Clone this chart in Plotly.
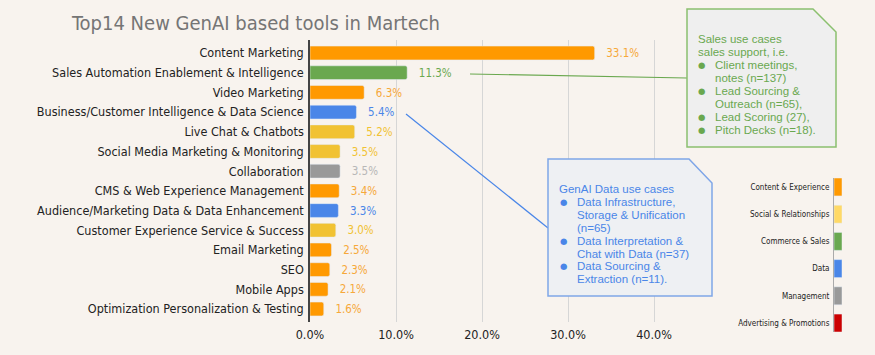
import plotly.graph_objects as go

W, H = 875, 355

categories = [
    "Content Marketing",
    "Sales Automation Enablement & Intelligence",
    "Video Marketing",
    "Business/Customer Intelligence & Data Science",
    "Live Chat & Chatbots",
    "Social Media Marketing & Monitoring",
    "Collaboration",
    "CMS & Web Experience Management",
    "Audience/Marketing Data & Data Enhancement",
    "Customer Experience Service & Success",
    "Email Marketing",
    "SEO",
    "Mobile Apps",
    "Optimization Personalization & Testing",
]
values = [33.1, 11.3, 6.3, 5.4, 5.2, 3.5, 3.5, 3.4, 3.3, 3.0, 2.5, 2.3, 2.1, 1.6]
groups = ["Content & Experience", "Commerce & Sales", "Content & Experience", "Data",
          "Social & Relationships", "Social & Relationships", "Management",
          "Content & Experience", "Data", "Social & Relationships",
          "Content & Experience", "Content & Experience", "Content & Experience",
          "Content & Experience"]

legend_groups = ["Content & Experience", "Social & Relationships", "Commerce & Sales",
                 "Data", "Management", "Advertising & Promotions"]
legend_values = [1, 1, 1, 1, 1, 1]

bar_colors = {"Content & Experience": "#FF9900", "Social & Relationships": "#F1C232",
              "Commerce & Sales": "#6AA84F", "Data": "#4A86E8",
              "Management": "#999999", "Advertising & Promotions": "#CC0000"}
legend_colors = {"Content & Experience": "#FF9900", "Social & Relationships": "#FFD966",
                 "Commerce & Sales": "#6AA84F", "Data": "#4A86E8",
                 "Management": "#999999", "Advertising & Promotions": "#CC0000"}
label_colors = {"Content & Experience": "#F6A83A", "Social & Relationships": "#F1C232",
                "Commerce & Sales": "#6AA84F", "Data": "#4A86E8",
                "Management": "#B7B7B7", "Advertising & Promotions": "#CC0000"}

sales_title = ["Sales use cases", "sales support, i.e."]
sales_bullets = [["Client meetings,", "notes (n=137)"],
                 ["Lead Sourcing &", "Outreach (n=65),"],
                 ["Lead Scoring (27),"],
                 ["Pitch Decks (n=18)."]]
data_title = ["GenAI Data use cases"]
data_bullets = [["Data Infrastructure,", "Storage & Unification", "(n=65)"],
                ["Data Interpretation &", "Chat with Data (n=37)"],
                ["Data Sourcing &", "Extraction (n=11)."]]

FONT = "DejaVu Sans Condensed, DejaVu Sans, Verdana, sans-serif"
ARIAL = "Liberation Sans, Arial, sans-serif"
BG = "#F8F3EE"


def px(x):
    return x / W


def py(y):
    return 1 - y / H


fig = go.Figure()

x0_px, xscale = 310, 8.6  # px of 0, px per 1%
xmax = 42
fig.add_trace(go.Bar(
    y=categories, x=values, orientation="h",
    marker=dict(color=[bar_colors[g] for g in groups], cornerradius=2),
    width=0.7,
    text=["  \u2009{:.1f}%".format(v) for v in values],
    textposition="outside",
    textfont=dict(family=FONT, size=12.5, color=[label_colors[g] for g in groups]),
    cliponaxis=False,
    hoverinfo="skip",
    showlegend=False,
    xaxis="x", yaxis="y",
))

fig.add_trace(go.Bar(
    y=legend_groups, x=legend_values, orientation="h",
    marker=dict(color=[legend_colors[g] for g in legend_groups]),
    width=0.66,
    hoverinfo="skip", showlegend=False,
    xaxis="x2", yaxis="y2",
))

shapes = []
annotations = []


def box(l, t, r, b, cut_x, cut_y, fill, line):
    path = "M {} {} L {} {} L {} {} L {} {} L {} {} Z".format(
        px(l), py(t), px(cut_x), py(t), px(r), py(cut_y), px(r), py(b), px(l), py(b))
    return dict(type="path", xref="paper", yref="paper", path=path,
                fillcolor=fill, line=dict(color=line, width=1.5), layer="above")


shapes.append(dict(type="line", xref="paper", yref="paper",
                   x0=px(470), y0=py(74), x1=px(687), y1=py(78),
                   line=dict(color="#6AA84F", width=1.2), layer="above"))
shapes.append(dict(type="line", xref="paper", yref="paper",
                   x0=px(406), y0=py(114), x1=px(548), y1=py(228),
                   line=dict(color="#4A86E8", width=1.2), layer="above"))
shapes.append(box(687, 9, 836, 147, 813, 32, "#EFEFEF", "#8BC06F"))
shapes.append(box(548, 159, 712, 296, 689, 183, "#EEF0F3", "#7FA6E8"))


def add_text(x, y, s, color, size=11.5, family=ARIAL):
    annotations.append(dict(x=px(x), y=py(y), xref="paper", yref="paper",
                            text=s, showarrow=False, xanchor="left", yanchor="middle",
                            borderpad=0,
                            font=dict(family=family, size=size, color=color)))


def add_block(title_lines, bullets, x_text, x_bullet, x_btext, y0, dy, color):
    y = y0
    for t in title_lines:
        add_text(x_text, y, t, color)
        y += dy
    for item in bullets:
        add_text(x_bullet, y, "\u25CF", color, size=8.5, family="DejaVu Sans")
        for ln in item:
            add_text(x_btext, y, ln, color)
            y += dy


add_block(sales_title, sales_bullets, 697, 697, 714, 39, 13, "#6AA84F")
add_block(data_title, data_bullets, 558, 559, 576, 189, 12.9, "#4A86E8")

annotations.append(dict(x=px(70), y=py(23), xref="paper", yref="paper",
                        text="Top14 New GenAI based tools in Martech", showarrow=False,
                        xanchor="left", yanchor="middle", borderpad=0,
                        font=dict(family=FONT, size=20, color="#757575")))

fig.update_layout(
    width=W, height=H, autosize=False,
    margin=dict(l=0, r=0, t=0, b=0, pad=0, autoexpand=False),
    paper_bgcolor=BG, plot_bgcolor=BG,
    shapes=shapes, annotations=annotations,
    xaxis=dict(domain=[px(x0_px), px(x0_px + xmax * xscale)], range=[0, xmax],
               tickvals=[0, 10, 20, 30, 40], ticktext=["0.0%", "10.0%", "20.0%", "30.0%", "40.0%"],
               showgrid=True, gridcolor="#D6D6D6", gridwidth=1, zeroline=False,
               tickfont=dict(family=FONT, size=12.5, color="#222222"),
               ticks="", ticklabelstandoff=3, fixedrange=True, automargin=False),
    yaxis=dict(domain=[py(322), py(40)], range=[13.66, -0.66], type="category",
               categoryorder="array", categoryarray=categories,
               showline=True, linecolor="#444444", linewidth=1.5,
               tickfont=dict(family=FONT, size=12.5, color="#222222"),
               ticks="", ticklabelstandoff=2, showgrid=False, fixedrange=True,
               automargin=False),
    xaxis2=dict(domain=[px(834), px(842)], range=[0, 1], anchor="y2",
                visible=False, fixedrange=True),
    yaxis2=dict(domain=[py(332), py(178)], range=[5.33, -0.33], anchor="x2",
                type="category", categoryorder="array", categoryarray=legend_groups,
                showline=True, linecolor="#AAAAAA", linewidth=1,
                tickfont=dict(family=FONT, size=8, color="#222222"),
                ticks="", ticklabelstandoff=2, showgrid=False, fixedrange=True,
                automargin=False),
)

fig.write_html(
    "out.html",
    config={"responsive": False, "displayModeBar": False},
    post_script="document.body.style.margin='0';document.body.style.overflow='hidden';",
)
